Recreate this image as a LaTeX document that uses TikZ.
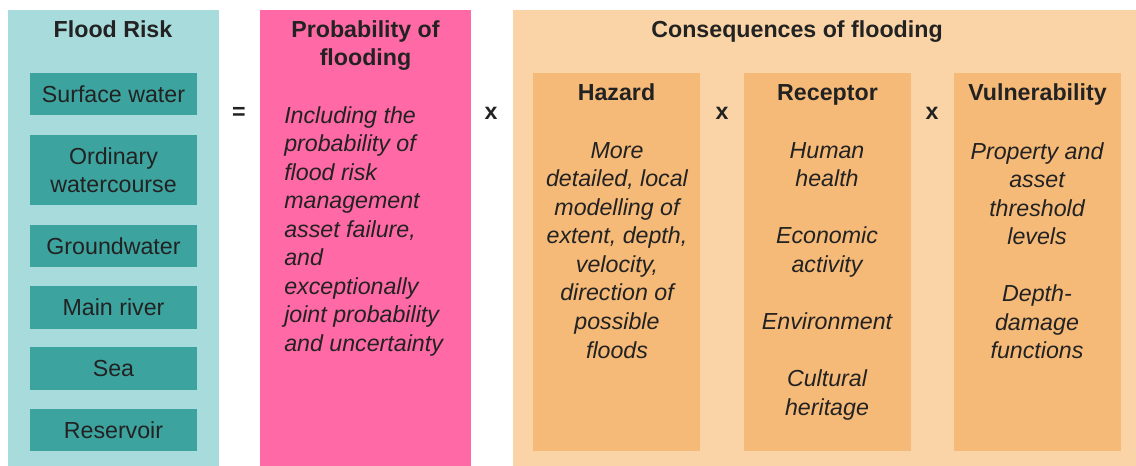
\documentclass[tikz,border=0pt]{standalone}
\usepackage{fontspec}
\setmainfont{Liberation Sans}
\usepackage{tikz}
\usetikzlibrary{positioning}
\definecolor{riskbg}{HTML}{A8DCDC}
\definecolor{sourcefill}{HTML}{3CA39E}
\definecolor{probfill}{HTML}{FF69A5}
\definecolor{consbg}{HTML}{FAD4A6}
\definecolor{factorfill}{HTML}{F6BA78}
\definecolor{inktext}{HTML}{222222}

\begin{document}
\begin{tikzpicture}[
    x=0.025cm, y=-0.025cm,
    font=\fontsize{16.5}{20.3}\selectfont,
    panel/.style={draw=none, inner sep=0pt, minimum width=5.275cm, minimum height=11.4cm},
    sourcebox/.style={fill=sourcefill, inner sep=0pt, minimum width=4.175cm, minimum height=1.05cm, align=center, text=inktext},
    factorbox/.style={fill=factorfill, inner sep=0pt, minimum width=4.175cm, minimum height=9.45cm},
    title/.style={font=\fontsize{16.5}{20}\bfseries, text=inktext, inner sep=0pt, align=center, anchor=base},
    body/.style={font=\fontsize{16.5}{20.3}\itshape, text=inktext, inner sep=0pt, align=center, anchor=north},
    op/.style={font=\fontsize{16.5}{20.3}\bfseries, text=inktext, inner sep=0pt}
]
\useasboundingbox (0,0) rectangle (1136,466);

% Panels
\node[panel, fill=riskbg] (riskpanel) at (113.5,238) {};
\node[panel, fill=probfill] (probpanel) at (365.5,238) {};
\node[panel, fill=consbg, minimum width=15.575cm] (conspanel) at (824.5,238) {};

% Flood risk sources
\node[title] (risktitle) at (113,38) {Flood Risk};
\node[sourcebox] (surface) at (113.5,94) {Surface water};
\node[sourcebox, minimum height=1.75cm] (ordinary) at (113.5,170) {Ordinary\\watercourse};
\node[sourcebox] (ground) at (113.5,246) {Groundwater};
\node[sourcebox] (mainriver) at (113.5,307.5) {Main river};
\node[sourcebox] (sea) at (113.5,368.5) {Sea};
\node[sourcebox] (reservoir) at (113.5,430) {Reservoir};

% Probability
\node[title, anchor=north] (probtitle) at (365.5,20) {Probability of\\flooding};
\node[body, align=left, anchor=north west] (probtext) at (284,106)
    {Including the\\probability of\\flood risk\\management\\asset failure,\\and\\exceptionally\\joint probability\\and uncertainty};

% Consequences
\node[title] (constitle) at (797,38) {Consequences of flooding};
\foreach \x/\name/\head in {616.5/hazard/Hazard,827.5/receptor/Receptor,1037.5/vulnerab/Vulnerability} {
    \node[factorbox] (\name) at (\x,262) {};
    \node[title] (\name title) at (\x,101) {\head};
}
\node[body] (hazardtext) at (617,142)
    {More\\detailed, local\\modelling of\\extent, depth,\\velocity,\\direction of\\possible\\floods};
\node[body] (receptortext) at (827,142)
    {Human\\health\\[20.3pt]Economic\\activity\\[20.3pt]Environment\\[20.3pt]Cultural\\heritage};
\node[body] (vulnerabtext) at (1037,142)
    {Property and\\asset\\threshold\\levels\\[20.3pt]Depth-\\damage\\functions};

% Operators
\node[op] (equals) at (239,113) {=};
\foreach \x/\name in {491/opone,722/optwo,932/opthree} {
    \node[op] (\name) at (\x,113) {x};
}
\end{tikzpicture}
\end{document}
